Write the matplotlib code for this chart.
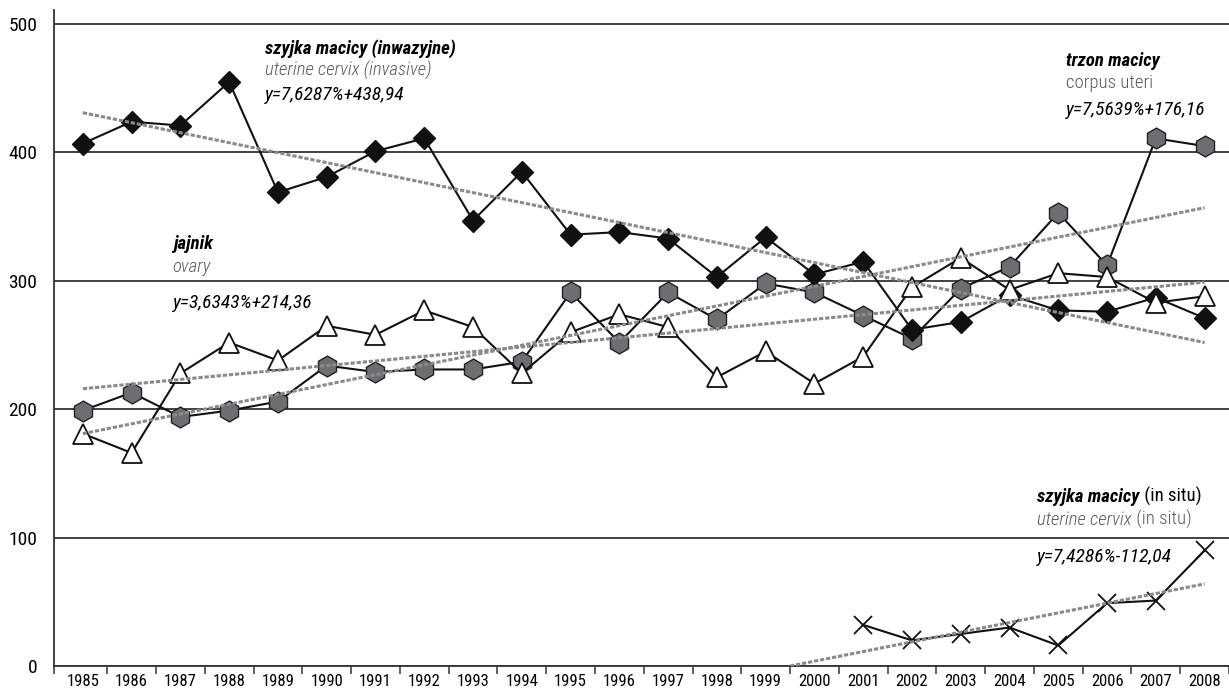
import matplotlib
matplotlib.use("Agg")
import matplotlib.pyplot as plt
from matplotlib import font_manager as fm

# pick a narrow font if one is there
names = {f.name for f in fm.fontManager.ttflist}
fam = "DejaVu Sans"
for cand in ["Liberation Sans Narrow", "Roboto Condensed", "Open Sans Condensed", "DejaVu Sans Condensed"]:
    if cand in names:
        fam = cand
        break
plt.rcParams["font.family"] = [fam, "DejaVu Sans"]

lata = [str(r) for r in range(1985, 2009)]

szyjka_inw = [407, 424, 421, 455, 369, 381, 401, 411, 347, 385, 336, 338, 333, 303,
              334, 305, 315, 262, 268, 289, 277, 276, 287, 271]
trzon = [199, 213, 194, 199, 206, 234, 229, 231, 231, 237, 291, 252, 291, 270,
         298, 291, 273, 255, 294, 311, 353, 312, 411, 405]
jajnik = [181, 166, 228, 252, 238, 265, 258, 277, 264, 228, 260, 274, 264, 225,
          245, 220, 241, 295, 318, 293, 306, 303, 283, 288]
lata_in_situ = [16, 17, 18, 19, 20, 21, 22, 23]
szyjka_in_situ = [32, 20, 25, 30, 16, 49, 51, 90]

# trend lines, ends
trend_inw_x, trend_inw_y = [0, 23], [431, 252]
trend_trzon_x, trend_trzon_y = [0, 23], [181, 357]
trend_jajnik_x, trend_jajnik_y = [0, 23], [216, 299]
trend_situ_x, trend_situ_y = [14.5, 23], [0, 64]

x = list(range(len(lata)))

fig = plt.figure(figsize=(12.29, 6.94), dpi=100)
ax = fig.add_axes([0.044, 0.0403, 0.956, 0.9453])

tstyle = dict(color="#8a8a8a", lw=2.2, ls=(0, (1.4, 0.6)), zorder=6)
ax.plot(trend_inw_x, trend_inw_y, **tstyle)
ax.plot(trend_trzon_x, trend_trzon_y, **tstyle)
ax.plot(trend_jajnik_x, trend_jajnik_y, **tstyle)
ax.plot(trend_situ_x, trend_situ_y, **tstyle)

ax.plot(x, trzon, color="#111111", lw=1.5, marker="h", ms=15,
        mfc="#6d6e71", mec="#222222", mew=1.0, zorder=3)
ax.plot(x, szyjka_inw, color="#111111", lw=1.5, marker="D", ms=11,
        mfc="#111111", mec="#111111", zorder=4)
ax.plot(x, jajnik, color="#111111", lw=1.5, marker="^", ms=15,
        mfc="white", mec="#111111", mew=1.3, zorder=5)
ax.plot(lata_in_situ, szyjka_in_situ, color="#111111", lw=1.5, marker="x", ms=13,
        mec="#111111", mew=1.3, zorder=5)

ax.set_xlim(-0.59, 23.39)
ax.set_ylim(0, 511)
ax.set_yticks([0, 100, 200, 300, 400, 500])
ax.set_xticks(x)
ax.set_xticklabels(lata)
ax.set_xticks([-0.59] + [i + 0.5 for i in range(24)], minor=True)
ax.tick_params(axis="x", which="major", length=0, pad=6, labelsize=12)
ax.tick_params(axis="x", which="minor", length=6, width=1.1, color="#333333", direction="out")
ax.tick_params(axis="y", length=0, pad=12, labelsize=14)
ax.yaxis.grid(True, color="#333333", lw=1.3)
ax.set_axisbelow(True)
for s in ["top", "right"]:
    ax.spines[s].set_visible(False)
for s in ["left", "bottom"]:
    ax.spines[s].set_color("#333333")
    ax.spines[s].set_linewidth(1.3)

fs = 13.5
gray = "#5a5a5a"

# szyjka macicy (inwazyjne)
ax.text(3.73, 477, "szyjka macicy (inwazyjne)", fontsize=fs, style="italic", weight="bold", va="baseline")
ax.text(3.73, 460, "uterine cervix (invasive)", fontsize=fs, style="italic", weight="light", color=gray, va="baseline")
ax.text(3.73, 441, "y=7,6287%+438,94", fontsize=fs + 0.5, style="italic", va="baseline")

# jajnik
ax.text(1.84, 325, "jajnik", fontsize=fs, style="italic", weight="bold", va="baseline")
ax.text(1.84, 307, "ovary", fontsize=fs, style="italic", weight="light", color=gray, va="baseline")
ax.text(1.84, 279, "y=3,6343%+214,36", fontsize=fs + 0.5, style="italic", va="baseline")

# trzon macicy
ax.text(20.16, 467, "trzon macicy", fontsize=fs, style="italic", weight="bold", va="baseline")
ax.text(20.16, 450, "corpus uteri", fontsize=fs, weight="light", color=gray, va="baseline")
ax.text(20.16, 429, "y=7,5639%+176,16", fontsize=fs + 0.5, style="italic", va="baseline")

# szyjka macicy (in situ)
t1 = ax.text(19.57, 125, "szyjka macicy", fontsize=fs, style="italic", weight="bold", va="bottom")
ax.annotate(" (in situ)", xy=(1, 0), xycoords=t1, fontsize=fs, va="bottom")
t2 = ax.text(19.57, 107, "uterine cervix", fontsize=fs, style="italic", weight="light", color=gray, va="bottom")
ax.annotate(" (in situ)", xy=(1, 0), xycoords=t2, fontsize=fs, weight="light", color=gray, va="bottom")
ax.text(19.57, 81, "y=7,4286%-112,04", fontsize=fs + 0.5, style="italic", va="baseline")

fig.savefig("out.png", dpi=100)
